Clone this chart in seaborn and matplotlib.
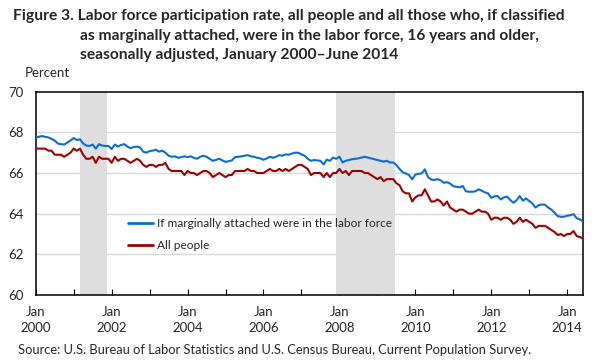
import numpy as np
import pandas as pd
import seaborn as sns
import matplotlib.pyplot as plt
from matplotlib.ticker import MultipleLocator, FixedLocator

# ---------------- data ----------------
all_people = [
    67.2, 67.2, 67.2, 67.2, 67.1, 67.1, 66.9, 66.9, 66.9, 66.8, 66.9, 67.0,   # 2000
    67.2, 67.1, 67.2, 66.9, 66.7, 66.7, 66.8, 66.5, 66.8, 66.7, 66.7, 66.7,   # 2001
    66.5, 66.8, 66.6, 66.7, 66.7, 66.6, 66.5, 66.6, 66.7, 66.6, 66.4, 66.3,   # 2002
    66.4, 66.4, 66.3, 66.4, 66.4, 66.5, 66.2, 66.1, 66.1, 66.1, 66.1, 65.9,   # 2003
    66.1, 66.0, 66.0, 65.9, 66.0, 66.1, 66.1, 66.0, 65.8, 65.9, 66.0, 65.9,   # 2004
    65.8, 65.9, 65.9, 66.1, 66.1, 66.1, 66.1, 66.2, 66.1, 66.1, 66.0, 66.0,   # 2005
    66.0, 66.1, 66.2, 66.1, 66.1, 66.2, 66.1, 66.2, 66.1, 66.2, 66.3, 66.4,   # 2006
    66.4, 66.3, 66.2, 65.9, 66.0, 66.0, 66.0, 65.8, 66.0, 65.8, 66.0, 66.0,   # 2007
    66.2, 66.0, 66.1, 65.9, 66.1, 66.1, 66.1, 66.1, 66.0, 66.0, 65.9, 65.8,   # 2008
    65.7, 65.8, 65.6, 65.7, 65.7, 65.7, 65.5, 65.4, 65.1, 65.0, 65.0, 64.6,   # 2009
    64.8, 64.9, 64.9, 65.2, 64.9, 64.6, 64.6, 64.7, 64.6, 64.4, 64.6, 64.3,   # 2010
    64.2, 64.1, 64.2, 64.2, 64.1, 64.0, 64.0, 64.1, 64.2, 64.1, 64.1, 64.0,   # 2011
    63.7, 63.8, 63.8, 63.7, 63.8, 63.8, 63.7, 63.5, 63.6, 63.8, 63.6, 63.7,   # 2012
    63.6, 63.5, 63.3, 63.4, 63.4, 63.4, 63.3, 63.2, 63.1, 62.95, 63.0, 62.9,  # 2013
    63.0, 63.0, 63.15, 62.9, 62.85, 62.78,                                    # 2014
]

marginally_attached_in_lf = [
    67.74, 67.78, 67.82, 67.78, 67.75, 67.68, 67.6, 67.45, 67.42, 67.4, 67.5, 67.6,
    67.72, 67.62, 67.66, 67.45, 67.35, 67.33, 67.4, 67.2, 67.42, 67.35, 67.33, 67.33,
    67.18, 67.4, 67.3, 67.38, 67.42, 67.3, 67.22, 67.28, 67.3, 67.25, 67.05, 67.0,
    67.08, 67.1, 67.15, 67.05, 67.1, 67.0, 66.85, 66.8, 66.82, 66.75, 66.78, 66.82,
    66.78, 66.82, 66.75, 66.7, 66.8, 66.85, 66.8, 66.7, 66.6, 66.65, 66.7, 66.62,
    66.55, 66.58, 66.62, 66.78, 66.8, 66.82, 66.85, 66.88, 66.82, 66.8, 66.75, 66.72,
    66.65, 66.72, 66.8, 66.75, 66.8, 66.88, 66.85, 66.92, 66.9, 66.96, 67.0, 67.0,
    66.92, 66.85, 66.7, 66.6, 66.64, 66.62, 66.6, 66.42, 66.66, 66.6, 66.76, 66.7,
    66.8, 66.52, 66.6, 66.64, 66.68, 66.7, 66.72, 66.76, 66.8, 66.76, 66.72, 66.68,
    66.64, 66.6, 66.56, 66.6, 66.52, 66.52, 66.4, 66.2, 66.04, 65.98, 65.9, 65.69,
    65.92, 65.96, 65.98, 66.18, 65.8, 65.68, 65.66, 65.7, 65.64, 65.52, 65.55, 65.48,
    65.35, 65.32, 65.3, 65.36, 65.1, 65.08, 65.08, 65.1, 65.2, 65.13, 65.05, 65.0,
    64.78, 64.85, 64.87, 64.7, 64.8, 64.84, 64.67, 64.54, 64.66, 64.87, 64.64, 64.75,
    64.62, 64.5, 64.3, 64.42, 64.45, 64.44, 64.3, 64.2, 64.05, 63.88, 63.85, 63.85,
    63.9, 63.92, 63.98, 63.78, 63.72, 63.62,
]

series_names = ["If marginally attached were in the labor force", "All people"]
series_colors = ["#0A6ED1", "#9E0000"]
recessions = [("2001-03", "2001-11"), ("2007-12", "2009-06")]
year_labels = [2000, 2002, 2004, 2006, 2008, 2010, 2012, 2014]
y_ticks = [60, 62, 64, 66, 68, 70]

months = pd.date_range("2000-01-01", periods=len(all_people), freq="MS")


def dec_year(ts):
    ts = pd.Timestamp(ts)
    return ts.year + (ts.month - 1) / 12.0


xdec = [dec_year(m) for m in months]
df = pd.concat([
    pd.DataFrame({"x": xdec, "rate": marginally_attached_in_lf, "series": series_names[0]}),
    pd.DataFrame({"x": xdec, "rate": all_people, "series": series_names[1]}),
])

# ---------------- style ----------------
sns.set_theme(style="white")
plt.rcParams["font.family"] = ["Lato", "DejaVu Sans"]

fig = plt.figure(figsize=(6.04, 3.62), dpi=100)
ax = fig.add_axes([35.7 / 604, 67 / 362, (583 - 35.7) / 604, (295 - 91.7) / 362])

for s, e in recessions:
    ax.axvspan(dec_year(s), dec_year(e) + 0.5 / 12, color="#DEDEDE", lw=0, zorder=1)

sns.lineplot(data=df, x="x", y="rate", hue="series", hue_order=series_names,
             palette=series_colors, linewidth=1.5, ax=ax, zorder=3)

ax.set_xlim(2000, dec_year(months[-1]))
ax.set_ylim(60, 70)
ax.set_xlabel("")
ax.set_ylabel("")

# grid
for y in y_ticks[1:-1]:
    ax.axhline(y, color="#D9D9D9", lw=1.0, zorder=0.5)

ax.set_yticks(y_ticks)
ax.set_yticklabels([str(v) for v in y_ticks])
ax.tick_params(axis="y", length=0, pad=8.5, labelsize=9.5)

ax.xaxis.set_major_locator(FixedLocator(year_labels))
ax.set_xticklabels([f"Jan\n{y}" for y in year_labels], linespacing=1.4)
ax.xaxis.set_minor_locator(MultipleLocator(1))
ax.tick_params(axis="x", which="both", direction="in", length=4, width=0.8,
               color="black", pad=8, labelsize=9.5, bottom=True)

for sp in ax.spines.values():
    sp.set_color("black")
    sp.set_linewidth(1.1)
    sp.set_visible(True)

leg = ax.legend(loc="upper left", bbox_to_anchor=(0.168, 0.378), frameon=False,
                handlelength=2.15, handletextpad=0.28, labelspacing=0.9,
                borderpad=0, borderaxespad=0, fontsize=8.6)
for line in leg.get_lines():
    line.set_linewidth(2)

# titles / notes
tkw = dict(fontsize=11.25, fontweight="bold", va="center", ha="left")
fig.text(13 / 604, 1 - 16 / 362,
         "Figure 3. Labor force participation rate, all people and all those who, if classified", **tkw)
fig.text(80 / 604, 1 - 36 / 362,
         "as marginally attached, were in the labor force, 16 years and older,", **tkw)
fig.text(80 / 604, 1 - 55 / 362, "seasonally adjusted, January 2000\u2013June 2014", **tkw)
fig.text(25 / 604, 1 - 73 / 362, "Percent", fontsize=9.5, va="center", ha="left")
fig.text(18 / 604, 1 - 350 / 362,
         "Source: U.S. Bureau of Labor Statistics and U.S. Census Bureau, Current Population Survey.",
         fontsize=9.3, va="center", ha="left")

fig.savefig("out.png", dpi=100)
